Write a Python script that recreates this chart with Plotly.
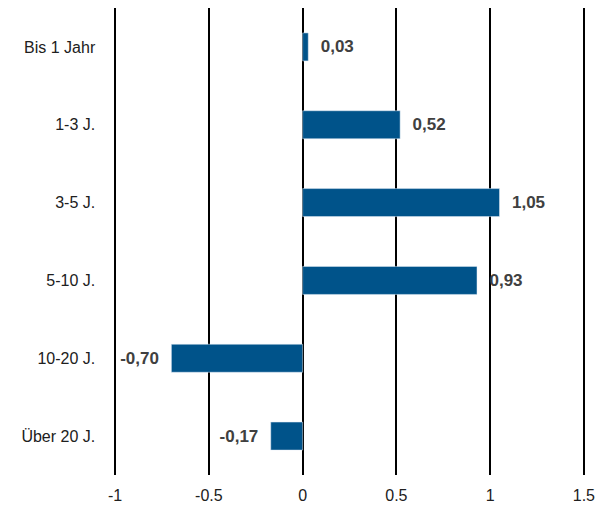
import plotly.graph_objects as go

categories = ["Bis 1 Jahr", "1-3 J.", "3-5 J.", "5-10 J.", "10-20 J.", "Über 20 J."]
values = [0.03, 0.52, 1.05, 0.93, -0.70, -0.17]
labels = [("  " + f"{v:.2f}" if v >= 0 else f"{v:.2f}" + "  ").replace(".", ",") for v in values]
tick_vals = [-1, -0.5, 0, 0.5, 1, 1.5]

FONT = "Liberation Sans Narrow, Arial Narrow, Liberation Sans, Arial"

fig = go.Figure(go.Bar(
    y=categories, x=values, orientation="h",
    marker_color="#00538A",
    text=labels, textposition="outside", cliponaxis=False,
    textfont=dict(family=FONT, size=17, color="#404040", weight="bold"),
))

fig.update_layout(
    width=615, height=513,
    margin=dict(l=106, r=38, t=0, b=46),
    plot_bgcolor="white", paper_bgcolor="white",
    bargap=0.64, showlegend=False,
    font=dict(family=FONT, size=16, color="#202020"),
)
fig.update_xaxes(range=[-1.006, 1.506], tickvals=tick_vals, ticktext=[str(t) for t in tick_vals],
                 showgrid=True, gridcolor="black", gridwidth=1.5,
                 zeroline=True, zerolinecolor="black", zerolinewidth=1.5,
                 showline=False, ticks="outside", ticklen=6, tickcolor="rgba(0,0,0,0)",
                 tickfont=dict(size=16), automargin=False)
fig.update_yaxes(autorange="reversed", showgrid=False, ticks="", ticklen=0,
                 ticksuffix="    ", tickfont=dict(size=16), automargin=False)

fig.write_html("out.html")
